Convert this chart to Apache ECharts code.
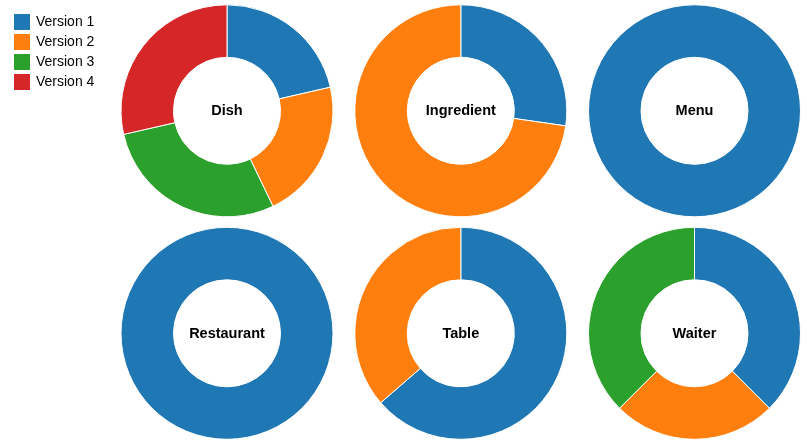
<!DOCTYPE html>
<html>
<head>
<meta charset="utf-8">
<script src="https://cdn.jsdelivr.net/npm/echarts@6/dist/echarts.min.js"></script>
<style>
html, body { margin: 0; padding: 0; background: #fff; }
#chart { width: 807px; height: 446px; }
</style>
</head>
<body>
<div id="chart"></div>
<script>
// Versions shown in the legend and their colours
const versions = ['Version 1', 'Version 2', 'Version 3', 'Version 4'];
const colors = ['#1f77b4', '#ff7f0e', '#2ca02c', '#d62728'];

// One donut per entity; values are counts per version
const entities = ['Dish', 'Ingredient', 'Menu', 'Restaurant', 'Table', 'Waiter'];
const dishValues = [3, 3, 4, 4];
const ingredientValues = [3, 8, 0, 0];
const menuValues = [1, 0, 0, 0];
const restaurantValues = [1, 0, 0, 0];
const tableValues = [7, 4, 0, 0];
const waiterValues = [3, 2, 3, 0];
const valuesByEntity = [dishValues, ingredientValues, menuValues, restaurantValues, tableValues, waiterValues];

// Layout of the 3x2 grid of donuts
const centersX = [227, 460.8, 694.5];
const centersY = [110.8, 333.3];
const outerR = 106;
const innerR = 53.5;

const chart = echarts.init(document.getElementById('chart'), null, { renderer: 'canvas' });

const series = entities.map((name, i) => ({
  type: 'pie',
  name: name,
  center: [centersX[i % 3], centersY[Math.floor(i / 3)]],
  radius: [innerR, outerR],
  startAngle: 90,
  clockwise: true,
  avoidLabelOverlap: false,
  label: { show: false },
  labelLine: { show: false },
  emphasis: { disabled: true },
  silent: true,
  animation: false,
  itemStyle: { borderColor: '#fff', borderWidth: 1 },
  data: versions
    .map((v, k) => ({ name: v, value: valuesByEntity[i][k] }))
    .filter(d => d.value > 0)
}));

// Entity name in the hole of each donut
const labels = entities.map((name, i) => ({
  type: 'text',
  x: centersX[i % 3],
  y: centersY[Math.floor(i / 3)] + 0.5,
  style: {
    text: name,
    fill: '#000',
    font: 'bold 14.5px "Liberation Sans", Arial, sans-serif',
    align: 'center',
    verticalAlign: 'middle'
  }
}));

chart.setOption({
  animation: false,
  color: colors,
  legend: {
    data: versions,
    orient: 'vertical',
    left: 12,
    top: 12,
    icon: 'rect',
    itemWidth: 18,
    itemHeight: 18,
    itemGap: 0,
    selectedMode: false,
    padding: 0,
    textStyle: {
      fontFamily: '"Liberation Sans", Arial, sans-serif',
      fontSize: 14,
      lineHeight: 18,
      color: '#000'
    }
  },
  series: series,
  graphic: labels
});
</script>
</body>
</html>
